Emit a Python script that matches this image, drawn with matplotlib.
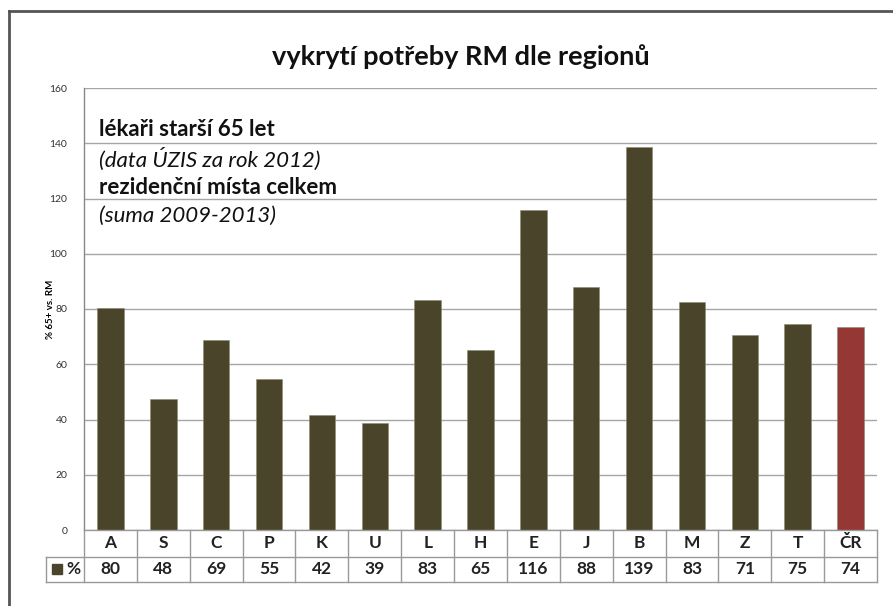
import matplotlib
matplotlib.use("Agg")
import matplotlib.pyplot as plt
from matplotlib.transforms import blended_transform_factory
from matplotlib.patches import Rectangle
from matplotlib.lines import Line2D

plt.rcParams['font.family'] = ['Lato', 'DejaVu Sans']

categories = ["A", "S", "C", "P", "K", "U", "L", "H", "E", "J", "B", "M", "Z", "T", "ČR"]
values = [80.3, 47.6, 68.6, 54.8, 41.6, 38.7, 83.2, 65.0, 115.9, 88.1, 138.6, 82.6, 70.6, 74.6, 73.6]
yticks = [0, 20, 40, 60, 80, 100, 120, 140, 160]
title = "vykrytí potřeby RM dle regionů"
ylabel = "% 65+ vs. RM"
series_name = "%"
notes = [("lékaři starší 65 let", "bold", "normal"),
         ("(data ÚZIS za rok 2012)", "normal", "italic"),
         ("rezidenční místa celkem", "bold", "normal"),
         ("(suma 2009-2013)", "normal", "italic")]

W, H = 893, 606
fig = plt.figure(figsize=(W / 100, H / 100), dpi=100)

def fx(px):
    return px / W

def fy(py):
    return 1 - py / H

left, right, top, bottom = 84, 877, 88, 530
ax = fig.add_axes([fx(left), fy(bottom), fx(right - left), (bottom - top) / H])

olive = "#4A452A"
red = "#953735"
colors = [olive] * (len(categories) - 1) + [red]
x = list(range(len(categories)))
ax.bar(x, values, width=0.5, color=colors, edgecolor="#8a8a70", linewidth=0.4, zorder=3)

ax.set_xlim(-0.5, len(categories) - 0.5)
ax.set_ylim(0, 160)
ax.set_yticks(yticks)
ax.set_yticklabels([str(t) for t in yticks], fontsize=7.5, color="#333333")
ax.tick_params(axis="y", length=0, pad=12)
ax.set_xticks([])
ax.grid(axis="y", color="#A6A6A6", linewidth=1.0, zorder=0)
for s in ["top", "right", "bottom"]:
    ax.spines[s].set_visible(False)
ax.spines["left"].set_color("#888888")
ax.spines["left"].set_linewidth(1.0)

ax.set_ylabel(ylabel, fontsize=7, fontweight="bold", labelpad=-4)

# Title
fig.text(fx(461), fy(57), title, ha="center", va="center", fontsize=19.5, fontweight="bold", color="#111111")

# Notes
ys = [130, 159, 188, 216]
for (txt, w, st), yy in zip(notes, ys):
    fig.text(fx(99), fy(yy), txt, ha="left", va="center", fontsize=16, fontweight=w, fontstyle=st, color="#111111")

# Data table below
tr = blended_transform_factory(ax.transData, fig.transFigure)
row1_top, row1_bot, row2_bot = 530, 557, 582
lc = "#999999"
fig.add_artist(Line2D([fx(84), fx(877)], [fy(row1_top), fy(row1_top)], color=lc, lw=1))
fig.add_artist(Line2D([fx(46), fx(877)], [fy(row1_bot), fy(row1_bot)], color=lc, lw=1))
fig.add_artist(Line2D([fx(46), fx(877)], [fy(row2_bot), fy(row2_bot)], color=lc, lw=1))
fig.add_artist(Line2D([fx(46), fx(46)], [fy(row1_bot), fy(row2_bot)], color=lc, lw=1))
fig.add_artist(Line2D([fx(84), fx(84)], [fy(row1_top), fy(row2_bot)], color=lc, lw=1))
for i in range(len(categories)):
    ln = Line2D([i + 0.5, i + 0.5], [fy(row1_top), fy(row2_bot)], color=lc, lw=1, transform=tr, clip_on=False)
    fig.add_artist(ln)
for i, (c, v) in enumerate(zip(categories, values)):
    fig.text(i, fy((row1_top + row1_bot) / 2), c, transform=tr, ha="center", va="center",
             fontsize=12.5, fontweight="bold", color="#222222")
    fig.text(i, fy((row1_bot + row2_bot) / 2), str(int(round(v))), transform=tr, ha="center", va="center",
             fontsize=12.5, fontweight="bold", color="#222222")
fig.add_artist(Rectangle((fx(52), fy(574)), fx(10), 10 / H, color=olive))
fig.text(fx(66), fy((row1_bot + row2_bot) / 2), series_name, ha="left", va="center",
         fontsize=12.5, fontweight="bold", color="#222222")

# Outer border (left and top visible)
fig.add_artist(Line2D([fx(9), fx(9)], [fy(11), 0], color="#555555", lw=2))
fig.add_artist(Line2D([fx(9), 1], [fy(11), fy(11)], color="#555555", lw=2))

fig.savefig("out.png", dpi=100)
